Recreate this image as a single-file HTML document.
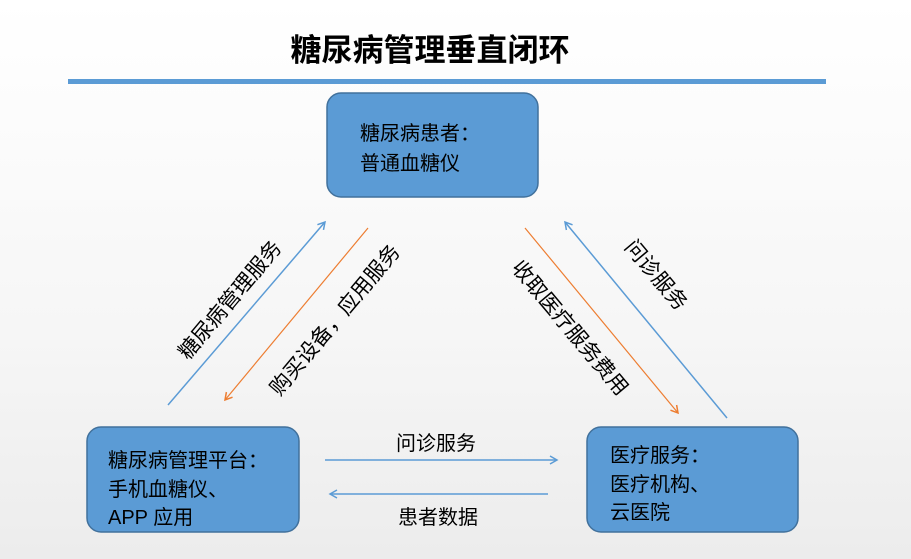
<!DOCTYPE html>
<html><head><meta charset="utf-8"><style>
html,body{margin:0;padding:0}
body{width:911px;height:559px;overflow:hidden;background:linear-gradient(#ffffff 0%,#f6f6f6 60%,#ececec 100%);font-family:"Liberation Sans","Noto Sans CJK SC",sans-serif}
</style></head><body>
<svg width="911" height="559" xmlns="http://www.w3.org/2000/svg" style="position:absolute;left:0;top:0">
<defs>
<marker id="ab" markerWidth="10" markerHeight="10" refX="8" refY="5" orient="auto" markerUnits="userSpaceOnUse"><path d="M1,1 L8,5 L1,9" fill="none" stroke="#5b9bd5" stroke-width="1.5"/></marker>
<marker id="ao" markerWidth="10" markerHeight="10" refX="8" refY="5" orient="auto" markerUnits="userSpaceOnUse"><path d="M1,1 L8,5 L1,9" fill="none" stroke="#ed7d31" stroke-width="1.5"/></marker>
</defs>
<g font-family="Liberation Sans, Noto Sans CJK SC, sans-serif">
<text x="430" y="61" text-anchor="middle" font-size="31" font-weight="bold" fill="#000">糖尿病管理垂直闭环</text>
<rect x="68" y="79" width="758" height="5" fill="#5b9bd5"/>
<rect x="327" y="93" width="211" height="104" rx="14" fill="#5b9bd5" stroke="#41719c" stroke-width="1.5"/>
<rect x="87" y="427" width="212" height="105" rx="14" fill="#5b9bd5" stroke="#41719c" stroke-width="1.5"/>
<rect x="587" y="427" width="211" height="105" rx="14" fill="#5b9bd5" stroke="#41719c" stroke-width="1.5"/>
<g font-size="20" fill="#000">
<text x="360" y="140">糖尿病患者：</text>
<text x="360" y="170">普通血糖仪</text>
<text x="108" y="467">糖尿病管理平台：</text>
<text x="108" y="496">手机血糖仪、</text>
<text x="108" y="524">APP 应用</text>
<text x="610" y="462">医疗服务：</text>
<text x="610" y="491">医疗机构、</text>
<text x="610" y="519">云医院</text>
</g>
<line x1="168" y1="405" x2="325" y2="222" stroke="#5b9bd5" stroke-width="1.5" marker-end="url(#ab)"/>
<line x1="368" y1="228" x2="225" y2="400" stroke="#ed7d31" stroke-width="1.2" marker-end="url(#ao)"/>
<line x1="525" y1="228" x2="678" y2="413" stroke="#ed7d31" stroke-width="1.2" marker-end="url(#ao)"/>
<line x1="727" y1="418" x2="565" y2="222" stroke="#5b9bd5" stroke-width="1.5" marker-end="url(#ab)"/>
<line x1="325" y1="460" x2="557" y2="460" stroke="#5b9bd5" stroke-width="1.5" marker-end="url(#ab)"/>
<line x1="548" y1="494" x2="330" y2="494" stroke="#5b9bd5" stroke-width="1.5" marker-end="url(#ab)"/>
<g font-size="21" fill="#000" text-anchor="middle">
<text transform="translate(230,300) rotate(-50)" y="7">糖尿病管理服务</text>
<text transform="translate(335,320) rotate(-50)" y="7">购买设备，应用服务</text>
<text transform="translate(570,328) rotate(50)" y="7">收取医疗服务费用</text>
<text transform="translate(656,275) rotate(50)" y="7">问诊服务</text>
<text x="436" y="450" font-size="20">问诊服务</text>
<text x="438" y="524" font-size="20">患者数据</text>
</g>
</g>
</svg>
</body></html>
